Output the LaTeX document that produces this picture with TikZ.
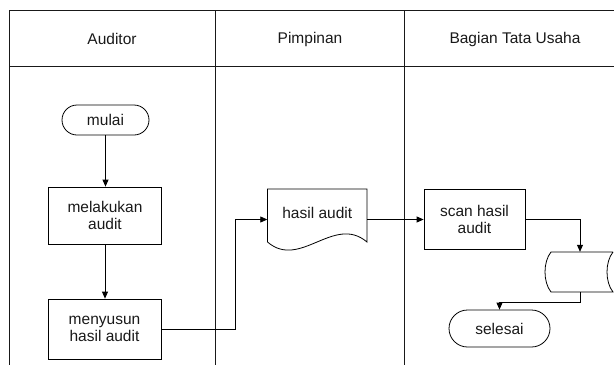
\documentclass[tikz,border=0pt]{standalone}
\usepackage{fontspec}
\setmainfont{Liberation Sans}
\usetikzlibrary{arrows.meta}
\begin{document}
\begin{tikzpicture}[x=1pt,y=-1pt,
  every node/.style={font=\fontsize{15.5}{17.5}\selectfont, text=black!90, align=center},
  lane/.style={line width=1pt, draw=black!90},
  procbox/.style={draw, line width=0.8pt, minimum width=113pt, minimum height=58pt, inner sep=0pt},
  term/.style={draw, line width=0.8pt, rounded corners=15pt, minimum width=87pt, minimum height=30pt, inner sep=0pt},
  outline/.style={draw, line width=0.8pt},
  arr/.style={line width=0.8pt, -{Triangle[length=7pt,width=6pt]}},
  conn/.style={line width=0.8pt}]
\useasboundingbox (0,0) rectangle (614,365);
% swimlane frame
\coordinate (tl) at (9,10);
\coordinate (hl) at (9,66);
\draw[lane] (614,10) -- (tl) -- (9,365);
\draw[lane] (hl) -- (614,66);
\draw[lane] (215.7,10) -- (215.7,365);
\draw[lane] (404,10) -- (404,365);
% lane titles
\node (h1) at (112,39) {Auditor};
\node (h2) at (310,39) {Pimpinan};
\node (h3) at (515,39) {Bagian Tata Usaha};
% Auditor lane
\node[term] (mulai) at (105.5,120) {mulai};
\node[procbox, minimum height=57pt] (lakukan) at (105,215.5) {melakukan\\audit};
\node[procbox, minimum height=60pt] (susun) at (104.5,329) {menyusun\\hasil audit};
% Pimpinan lane: document
\node[minimum width=99.5pt, minimum height=61pt, inner sep=0pt] (doc) at (317.25,219.5) {};
\node (doctext) at (317.25,213) {hasil audit};
\draw[outline] (267.5,242) -- (267.5,189) -- (367,189) -- (367,242)
  .. controls (334,214) and (300,270) .. (267.5,242);
% Bagian Tata Usaha lane
\node[procbox, minimum width=101pt, minimum height=60pt] (scan) at (474.5,219.5) {scan hasil\\audit};
\node[minimum width=62pt, minimum height=40pt, inner sep=0pt] (store) at (580,272) {};
\draw[outline] (613,252) -- (551,252) .. controls (543,262) and (543,282) .. (551,292)
  -- (613,292) .. controls (605,282) and (605,262) .. (613,252);
\node[term, minimum width=101pt, minimum height=37pt, rounded corners=18.5pt] (selesai) at (499.5,328.5) {selesai};
% connectors
\draw[arr] (mulai.south) -- (lakukan.north -| mulai.south);
\draw[arr] (lakukan.south) -- (susun.north -| lakukan.south);
\draw[arr] (susun.east) -- (235,329) |- (doc.west);
\draw[arr] (doc.east) -- (scan.west);
\draw[arr] (scan.east) -| (store.north);
\draw[arr] (store.south) -- ++(0,10) -| (selesai.north);
\end{tikzpicture}
\end{document}
